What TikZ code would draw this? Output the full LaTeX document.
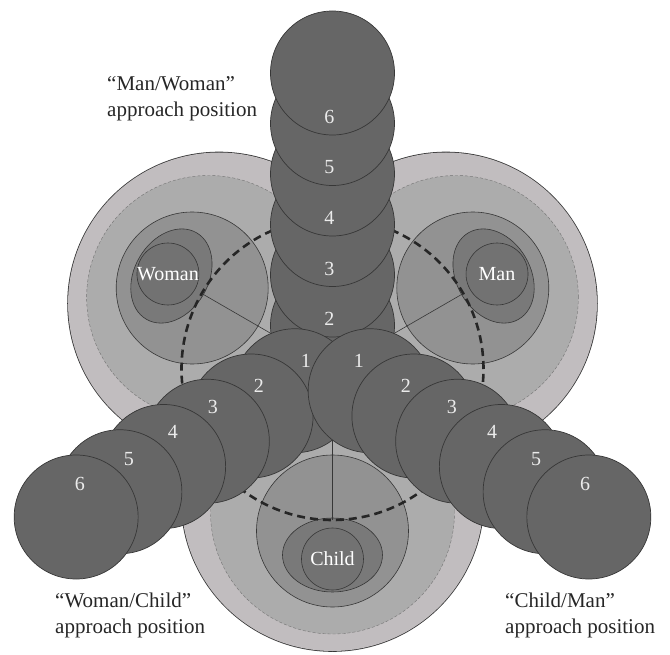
\documentclass[tikz,border=0pt]{standalone}
\usepackage{fontspec}
\setmainfont{Liberation Serif}
\usepackage{tikz}
\usetikzlibrary{calc}
\definecolor{OuterGray}{RGB}{193,189,191}
\definecolor{BandGray}{RGB}{172,172,172}
\definecolor{MidGray}{RGB}{146,146,146}
\definecolor{ShellGray}{RGB}{121,121,121}
\definecolor{CoreGray}{RGB}{114,114,114}
\definecolor{StepGray}{RGB}{102,102,102}
\definecolor{EdgeGray}{RGB}{55,55,55}

\begin{document}
\begin{tikzpicture}[x=1pt, y=1pt,
	rim/.style={draw=EdgeGray, line width=0.6pt},
	approach/.style={fill=StepGray, draw=EdgeGray, line width=0.7pt},
	num/.style={inner sep=0pt, text=white!92!black, font=\fontsize{20}{20}\selectfont},
	who/.style={inner sep=0pt, text=white, font=\fontsize{20}{20}\selectfont},
	caption/.style={inner sep=0pt, anchor=west, align=left, text=black!85, font=\fontsize{21}{26}\selectfont}]
	\useasboundingbox (-332.5,-285) rectangle (337.5,369);
	% outer zone (union of three discs)
	\draw[EdgeGray, line width=1.6pt] (150:131) circle (151) (30:131) circle (151) (270:131) circle (151);
	\fill[OuterGray] (150:131) circle (151) (30:131) circle (151) (270:131) circle (151);
	% banded zone
	\filldraw[fill=BandGray, draw=EdgeGray!70, densely dashed, line width=0.4pt] (150:143) circle (122);
	\filldraw[fill=BandGray, draw=EdgeGray!70, densely dashed, line width=0.4pt] (30:143) circle (122);
	\filldraw[fill=BandGray, draw=EdgeGray!70, densely dashed, line width=0.4pt] (270:143) circle (122);
	% Woman
	\begin{scope}[shift={(150:0)}]
		\filldraw[rim, fill=MidGray] (150:162) circle (76);
		\begin{scope}[shift={(150:186)}, rotate=150]
			\filldraw[rim, fill=ShellGray] (0,0) ellipse (37 and 50);
		\end{scope}
		\filldraw[rim, fill=CoreGray] (150:190) circle (31);
		\node[who] (woman) at (150:190) {Woman};
	\end{scope}
	% Man
	\begin{scope}
		\filldraw[rim, fill=MidGray] (30:162) circle (76);
		\begin{scope}[shift={(30:186)}, rotate=30]
			\filldraw[rim, fill=ShellGray] (0,0) ellipse (37 and 50);
		\end{scope}
		\filldraw[rim, fill=CoreGray] (30:190) circle (31);
		\node[who] (man) at (30:190) {Man};
	\end{scope}
	% Child
	\begin{scope}
		\filldraw[rim, fill=MidGray] (270:162) circle (76);
		\begin{scope}[shift={(270:186)}, rotate=270]
			\filldraw[rim, fill=ShellGray] (0,0) ellipse (37 and 50);
		\end{scope}
		\filldraw[rim, fill=CoreGray] (270:190) circle (31);
		\node[who] (child) at (270:190) {Child};
	\end{scope}
	% o-space
	\coordinate (O) at (0,0);
	\draw[rim] (O) -- (150:151);
	\draw[rim] (O) -- (30:151);
	\draw[rim] (O) -- (270:151);
	\draw[black!85, line width=2.6pt, dash pattern=on 8pt off 5pt] (O) circle (151);
	% "Man/Woman" approach
	\filldraw[approach] (90:43.5) circle (62);
	\filldraw[approach] (90:94) circle (62);
	\filldraw[approach] (90:144.5) circle (62);
	\filldraw[approach] (90:195) circle (62);
	\filldraw[approach] (90:245.5) circle (62);
	\filldraw[approach] (90:296) circle (62);
	% "Woman/Child" approach
	\filldraw[approach] (210:43.5) circle (62);
	\filldraw[approach] (210:94) circle (62);
	\filldraw[approach] (210:144.5) circle (62);
	\filldraw[approach] (210:195) circle (62);
	\filldraw[approach] (210:245.5) circle (62);
	\filldraw[approach] (210:296) circle (62);
	% "Child/Man" approach
	\filldraw[approach] (330:43.5) circle (62);
	\filldraw[approach] (330:94) circle (62);
	\filldraw[approach] (330:144.5) circle (62);
	\filldraw[approach] (330:195) circle (62);
	\filldraw[approach] (330:245.5) circle (62);
	\filldraw[approach] (330:296) circle (62);
	% step numbers
	\node[num] (c2) at (-3,50) {2};
	\node[num] (c3) at (-3,100.5) {3};
	\node[num] (c4) at (-3,151) {4};
	\node[num] (c5) at (-3,201.5) {5};
	\node[num] (c6) at (-3,252) {6};
	\node[num] (l1) at (-26.5,8) {1};
	\node[num] (l2) at (-73.5,-17) {2};
	\node[num] (l3) at (-119.5,-38) {3};
	\node[num] (l4) at (-159.5,-63) {4};
	\node[num] (l5) at (-203.5,-90) {5};
	\node[num] (l6) at (-252.5,-115) {6};
	\node[num] (r1) at (26.5,8) {1};
	\node[num] (r2) at (73.5,-17) {2};
	\node[num] (r3) at (119.5,-38) {3};
	\node[num] (r4) at (159.5,-63) {4};
	\node[num] (r5) at (203.5,-90) {5};
	\node[num] (r6) at (252.5,-115) {6};
	% captions
	\node[caption] (mw) at (-225.5,270.5) {“Man/Woman”\\approach position};
	\node[caption] (wc) at (-277.5,-246) {“Woman/Child”\\approach position};
	\node[caption] (cm) at (172.5,-246) {“Child/Man”\\approach position};
\end{tikzpicture}
\end{document}
